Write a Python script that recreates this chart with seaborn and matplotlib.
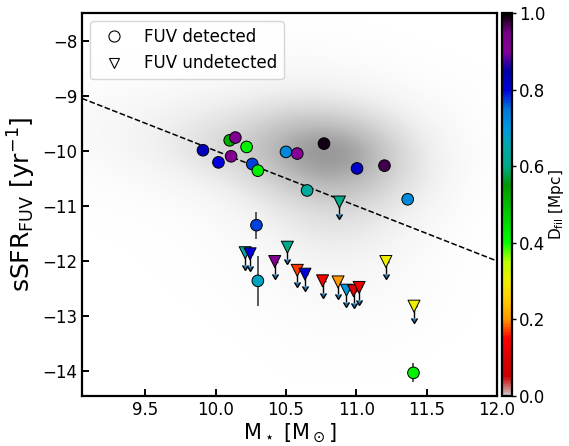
import numpy as np
import matplotlib
matplotlib.use("Agg")
import matplotlib.pyplot as plt
import matplotlib.cm as cm
from matplotlib.colors import Normalize
from matplotlib.lines import Line2D
import seaborn as sns

# FUV-detected galaxies: stellar mass, sSFR, 1-sigma error, distance to filament
det_mass = [9.91, 10.02, 10.10, 10.14, 10.11, 10.22, 10.26, 10.30, 10.50, 10.58,
            10.77, 10.65, 11.005, 11.20, 11.365, 10.29, 10.30, 11.406]
det_ssfr = [-9.99, -10.21, -9.81, -9.76, -10.10, -9.93, -10.24, -10.36, -10.02, -10.05,
            -9.87, -10.72, -10.32, -10.27, -10.88, -11.35, -12.36, -14.03]
det_err = [0.0, 0.0, 0.0, 0.0, 0.0, 0.0, 0.0, 0.0, 0.0, 0.0,
           0.0, 0.0, 0.0, 0.0, 0.0, 0.245, 0.45, 0.17]
det_dfil = [0.83, 0.80, 0.52, 0.93, 0.92, 0.42, 0.77, 0.42, 0.72, 0.91,
            0.99, 0.63, 0.82, 0.97, 0.72, 0.77, 0.67, 0.42]

# FUV-undetected galaxies: upper limits on sSFR
undet_mass = [10.88, 10.21, 10.245, 10.42, 10.51, 10.58, 10.635, 10.76, 10.87,
              10.93, 10.98, 11.02, 11.21, 11.41]
undet_ssfr = [-10.93, -11.85, -11.87, -12.01, -11.75, -12.17, -12.24, -12.36, -12.38,
              -12.53, -12.54, -12.48, -12.01, -12.82]
undet_dfil = [0.60, 0.64, 0.80, 0.92, 0.60, 0.17, 0.80, 0.14, 0.20,
              0.70, 0.10, 0.12, 0.30, 0.30]
limit_arrow = 0.22

# Parent galaxy sample, shown as relative number density on a coarse grid
cloud_x = [9.0, 9.25, 9.5, 9.75, 10.0, 10.25, 10.5, 10.75, 11.0, 11.25, 11.5, 11.75, 12.0]
cloud_y = [-7.5, -8.0, -8.5, -9.0, -9.5, -10.0, -10.5, -11.0, -11.5, -12.0, -12.5,
           -13.0, -13.5, -14.0, -14.5]
cloud_density = [
    [0, 0, 0, 0, 0, 0, 0, 0, 0, 0, 0, 0, 0],
    [0, 0, 0, 0, 0.01, 0.02, 0.03, 0.03, 0.02, 0.01, 0, 0, 0],
    [0.01, 0.01, 0.02, 0.03, 0.05, 0.06, 0.08, 0.08, 0.06, 0.04, 0.02, 0.01, 0],
    [0.05, 0.06, 0.08, 0.12, 0.15, 0.20, 0.25, 0.25, 0.20, 0.12, 0.06, 0.03, 0.01],
    [0.08, 0.12, 0.18, 0.25, 0.35, 0.45, 0.60, 0.65, 0.55, 0.35, 0.15, 0.05, 0.01],
    [0.06, 0.10, 0.18, 0.30, 0.45, 0.60, 0.80, 0.95, 0.85, 0.55, 0.25, 0.08, 0.02],
    [0.03, 0.05, 0.08, 0.15, 0.25, 0.40, 0.60, 0.75, 0.70, 0.50, 0.25, 0.06, 0.01],
    [0.01, 0.02, 0.03, 0.05, 0.10, 0.20, 0.35, 0.45, 0.45, 0.30, 0.15, 0.04, 0.01],
    [0, 0.01, 0.01, 0.02, 0.05, 0.10, 0.20, 0.30, 0.28, 0.18, 0.08, 0.02, 0],
    [0, 0, 0.01, 0.01, 0.03, 0.06, 0.12, 0.16, 0.15, 0.10, 0.05, 0.02, 0],
    [0, 0, 0, 0.01, 0.02, 0.04, 0.07, 0.09, 0.09, 0.07, 0.04, 0.01, 0],
    [0, 0, 0, 0, 0.01, 0.02, 0.04, 0.05, 0.05, 0.04, 0.03, 0.01, 0],
    [0, 0, 0, 0, 0, 0.01, 0.02, 0.03, 0.03, 0.02, 0.01, 0, 0],
    [0, 0, 0, 0, 0, 0, 0.01, 0.01, 0.01, 0.01, 0, 0, 0],
    [0, 0, 0, 0, 0, 0, 0, 0, 0, 0, 0, 0, 0],
]

x_ticks = [9.5, 10.0, 10.5, 11.0, 11.5, 12.0]
y_ticks = [-8, -9, -10, -11, -12, -13, -14]
cbar_ticks = [0.0, 0.2, 0.4, 0.6, 0.8, 1.0]

sns.set_style("white")
plt.rcParams['font.family'] = ['DejaVu Sans']
plt.rcParams['mathtext.fontset'] = 'dejavusans'
for key in ('text.color', 'axes.labelcolor', 'xtick.color', 'ytick.color',
            'xtick.labelcolor', 'ytick.labelcolor'):
    plt.rcParams[key] = 'black'

fig = plt.figure(figsize=(5.69, 4.46), dpi=100)
ax = fig.add_axes([0.1441, 0.1121, 0.7294, 0.8587])
cax = fig.add_axes([0.8822, 0.1121, 0.0176, 0.8587])

cmap = plt.get_cmap('nipy_spectral_r')
norm = Normalize(0.0, 1.0)

xlim = (9.05, 12.0)
ylim = (-14.45, -7.5)

# parent sample density
dx = (cloud_x[1] - cloud_x[0]) / 2
dy = (cloud_y[0] - cloud_y[1]) / 2
ax.imshow(np.array(cloud_density), cmap='Greys', vmin=0, vmax=1.7,
          extent=(cloud_x[0] - dx, cloud_x[-1] + dx, cloud_y[-1] - dy, cloud_y[0] + dy),
          origin='upper', aspect='auto', interpolation='bicubic', zorder=0)

# reference line
xl = np.array(xlim)
ax.plot(xl, -xl, color='black', ls='--', lw=1.1, zorder=1)

# error bars and upper-limit arrows
ax.errorbar(det_mass, det_ssfr, yerr=det_err, fmt='none', ecolor='0.35',
            elinewidth=1.4, zorder=2)
ax.errorbar(undet_mass, undet_ssfr, yerr=[limit_arrow] * len(undet_mass), uplims=True,
            fmt='none', ecolor='black', elinewidth=1.0, capsize=2.2, zorder=2)

sns.scatterplot(x=det_mass, y=det_ssfr, hue=det_dfil, palette=cmap, hue_norm=norm,
                marker='o', s=70, edgecolor='black', linewidth=0.7, legend=False,
                ax=ax, zorder=4)
sns.scatterplot(x=undet_mass, y=undet_ssfr, hue=undet_dfil, palette=cmap, hue_norm=norm,
                marker='v', s=75, edgecolor='black', linewidth=0.7, legend=False,
                ax=ax, zorder=4)

ax.set_xlim(*xlim)
ax.set_ylim(*ylim)
ax.set_xticks(x_ticks)
ax.set_xticklabels([f'{t:.1f}' for t in x_ticks])
ax.set_yticks(y_ticks)
ax.tick_params(direction='in', length=5, width=1.4, labelsize=12, colors='black',
               top=False, right=False, left=True, bottom=True)
for sp in ax.spines.values():
    sp.set_linewidth(1.6)
    sp.set_color('black')

ax.set_xlabel(r'M$_\star$ [M$_\odot$]', fontsize=15, labelpad=2)
ax.set_ylabel(r'sSFR$_{\rm FUV}$ [yr$^{-1}$]', fontsize=18, labelpad=3)

handles = [
    Line2D([], [], marker='o', ls='none', mfc='white', mec='black', ms=8, mew=0.8),
    Line2D([], [], marker='v', ls='none', mfc='white', mec='black', ms=7, mew=0.8),
]
ax.legend(handles, ['FUV detected', 'FUV undetected'], loc='upper left', fontsize=12,
          frameon=True)

cb = fig.colorbar(cm.ScalarMappable(norm=norm, cmap=cmap), cax=cax)
cb.set_ticks(cbar_ticks)
cb.set_ticklabels([f'{t:.1f}' for t in cbar_ticks])
cb.ax.tick_params(labelsize=12, length=3, width=1.0, pad=2, colors='black')
cb.outline.set_linewidth(1.6)
cb.outline.set_edgecolor('black')
cb.set_label(r'D$_{\rm fil}$ [Mpc]', fontsize=11, labelpad=1)

fig.savefig('out.png', dpi=100)
